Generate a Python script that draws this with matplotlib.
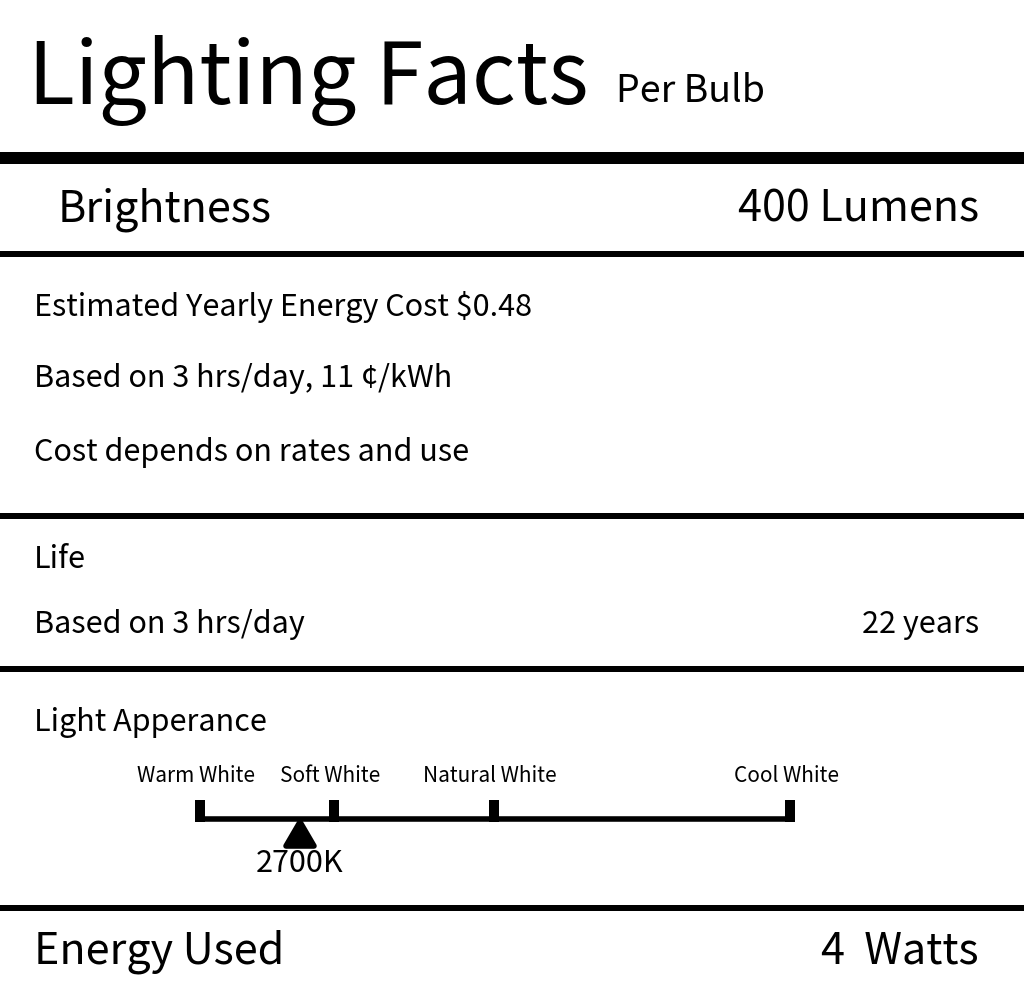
import matplotlib
matplotlib.use("Agg")
import matplotlib.pyplot as plt
from matplotlib.patches import FancyBboxPatch, Polygon

plt.rcParams['font.family'] = ['Noto Sans CJK SC', 'DejaVu Sans']

title = "Lighting Facts"
subtitle = "Per Bulb"
brightness_label, brightness_value = "Brightness", "400 Lumens"
cost_lines = ["Estimated Yearly Energy Cost $0.48", "Based on 3 hrs/day, 11 ¢/kWh", "Cost depends on rates and use"]
life_label, life_sub, life_value = "Life", "Based on 3 hrs/day", "22 years"
appearance_label = "Light Apperance"
scale_labels = ["Warm White", "Soft White", "Natural White", "Cool White"]
scale_pos = [200, 334, 494, 790]
marker_pos = 300
marker_label = "2700K"
energy_label, energy_value = "Energy Used", "4  Watts"

fig = plt.figure(figsize=(10.24, 10.0), dpi=100)
ax = fig.add_axes([0, 0, 1, 1])
ax.set_xlim(0, 1024); ax.set_ylim(1000, 0); ax.axis('off')

def hline(y, h):
    ax.add_patch(plt.Rectangle((0, y - h / 2), 1024, h, color='black', lw=0))

hline(158, 12); hline(254, 6); hline(516, 6); hline(669, 6); hline(908, 6)

ax.text(28, 80, title, fontsize=62, va='center', ha='left')
ax.text(616, 91, subtitle, fontsize=27, va='center')
ax.text(58, 210, brightness_label, fontsize=31, va='center')
ax.text(979, 210, brightness_value, fontsize=31, va='center', ha='right')
ax.text(34, 307, cost_lines[0], fontsize=22, va='center', weight='medium')
ax.text(34, 379, cost_lines[1], fontsize=22, va='center')
ax.text(34, 453, cost_lines[2], fontsize=22, va='center')
ax.text(34, 559, life_label, fontsize=22, va='center', weight='medium')
ax.text(34, 624, life_sub, fontsize=22, va='center')
ax.text(979, 624, life_value, fontsize=22, va='center', ha='right')
ax.text(34, 722, appearance_label, fontsize=22, va='center', weight='medium')

ax.plot([scale_pos[0], scale_pos[-1]], [819, 819], color='black', lw=4, solid_capstyle='butt')
for x, lab in zip(scale_pos, scale_labels):
    ax.add_patch(plt.Rectangle((x - 5, 800), 10, 22, color='black', lw=0))
    ax.text(x - 4 if lab != "Warm White" else x - 4, 776, lab, fontsize=15, va='center', ha='center', weight='medium')
ax.add_patch(Polygon([[marker_pos, 822], [marker_pos - 14, 846], [marker_pos + 14, 846]],
                     closed=True, color='black', joinstyle='round', lw=4))
ax.text(marker_pos, 863, marker_label, fontsize=22, va='center', ha='center')

ax.text(34, 952, energy_label, fontsize=31, va='center')
ax.text(979, 952, energy_value, fontsize=31, va='center', ha='right')

fig.savefig("out.png", dpi=100, facecolor='white')
